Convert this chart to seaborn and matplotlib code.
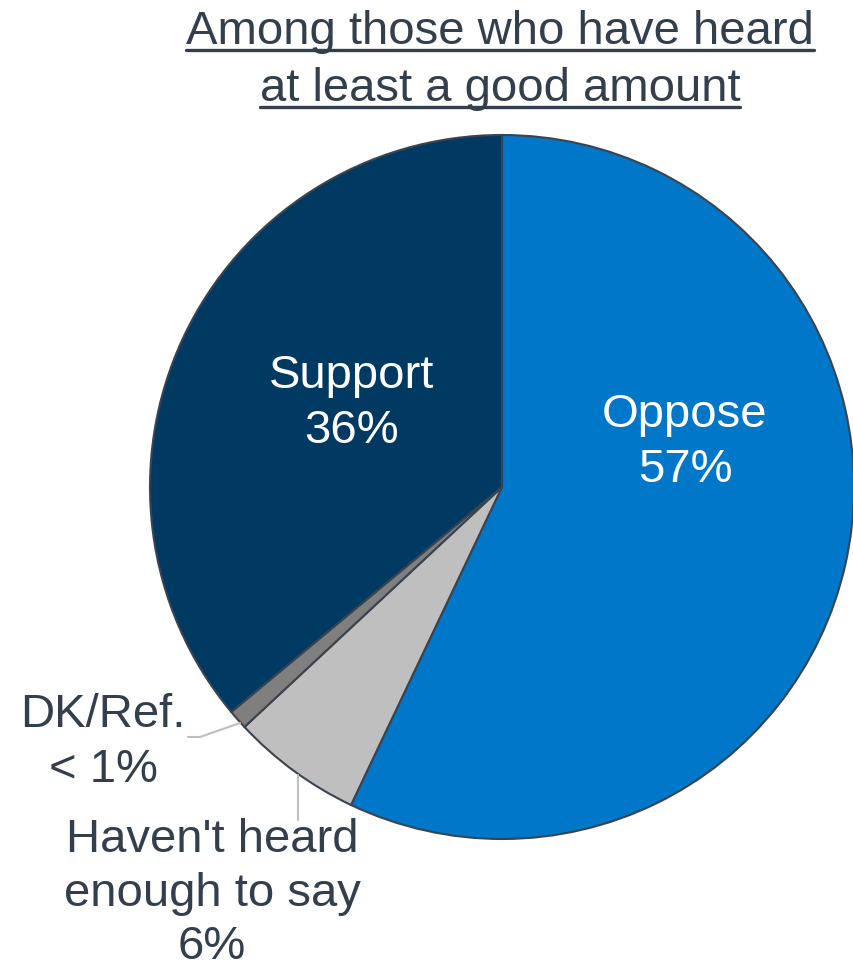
import matplotlib
matplotlib.use("Agg")
import matplotlib.pyplot as plt
import seaborn as sns
from matplotlib.lines import Line2D

sns.set_theme(style="white")
plt.rcParams['font.family'] = ['Liberation Sans', 'DejaVu Sans']

categories = ["Oppose", "Haven't heard enough to say", "DK/Ref.", "Support"]
values = [57, 6, 0.9, 36]
value_labels = ["57%", "6%", "< 1%", "36%"]
colors = ["#0077C8", "#BFBFBF", "#7F7F7F", "#003A63"]
title_lines = ["Among those who have heard", "at least a good amount"]

W, H = 854, 966
fig = plt.figure(figsize=(W / 100, H / 100), dpi=100)
ax = fig.add_axes([0, 0, 1, 1])

cx, cy, r = 502, 487, 352
# y axis is inverted below, so start at -90 (screen top) and go counterclockwise in
# data space, which appears clockwise on screen
ax.pie(values, colors=colors, startangle=-90, counterclock=True,
       radius=r, center=(cx, cy),
       wedgeprops=dict(edgecolor="#3A4450", linewidth=1.5))
ax.set_xlim(0, W)
ax.set_ylim(H, 0)
ax.set_aspect('equal')
ax.axis('off')

txt = "#333F4C"
fs = 34


def lines_at(x, baselines, lines, color):
    for y, s in zip(baselines, lines):
        ax.text(x, y, s, ha='center', va='baseline', color=color, fontsize=fs)


# In-slice labels
lines_at(352, [388, 443], [categories[3], value_labels[3]], 'white')
lines_at(685, [427, 482], [categories[0], value_labels[0]], 'white')

# Outside labels
lines_at(103, [727, 782], [categories[2], value_labels[2]], txt)
lines_at(212, [852, 906, 959], ["Haven't heard", "enough to say", value_labels[1]], txt)

# Leader lines
ax.plot([240, 200, 188], [723, 737, 737], color="#BFBFBF", lw=1.5)
ax.plot([298, 298], [775, 820], color="#BFBFBF", lw=1.5)

# Title with underline
baselines = [44, 101]
fig.canvas.draw()
renderer = fig.canvas.get_renderer()
for line, y in zip(title_lines, baselines):
    t = ax.text(500, y, line, ha='center', va='baseline', color=txt, fontsize=fs)
    bb = t.get_window_extent(renderer=renderer)
    x0, x1 = bb.x0 / W, bb.x1 / W
    yline = 1 - (y + 6) / H
    fig.add_artist(Line2D([x0, x1], [yline, yline], transform=fig.transFigure,
                          color=txt, lw=2.4))

fig.savefig("out.png", dpi=100)
